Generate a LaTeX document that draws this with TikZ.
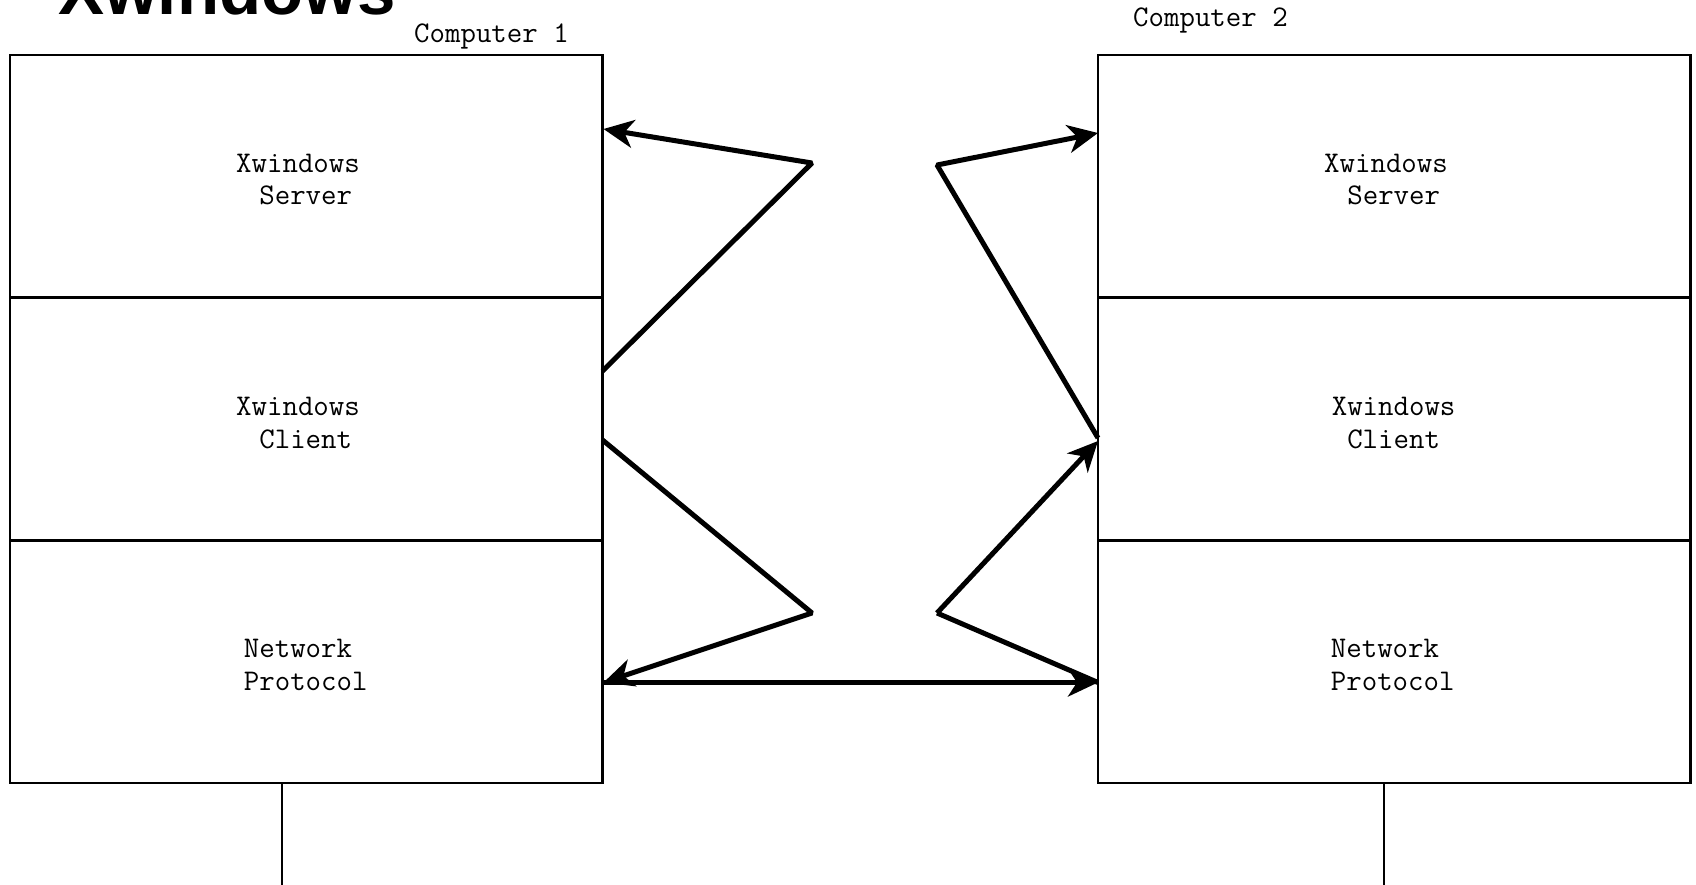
\documentclass[tikz,border=0pt]{standalone}
\usepackage{fontspec}
\newfontfamily\titlef{Liberation Sans}
\usetikzlibrary{arrows.meta,calc}
\begin{document}
\begin{tikzpicture}[x=1pt,y=-1pt,
  box/.style={draw, line width=2.6pt, minimum width=592.5pt, minimum height=242.7pt, inner sep=0pt, outer sep=0pt, anchor=north west},
  lbl/.style={font=\ttfamily\fontsize{30}{32.4}\selectfont, align=center, inner sep=0pt},
  conn/.style={line width=5pt, line join=bevel},
  tip/.style={-{Stealth[length=30pt,width=28pt,inset=9pt]}},
  plain/.style={line width=2.5pt}
]
\useasboundingbox (0,0) rectangle (1696,885);

% title
\node[font=\titlef\bfseries\fontsize{69}{80}\selectfont, anchor=base west, inner sep=0pt] (title) at (58,15) {Xwindows};

% computer labels
\node[lbl, anchor=base west] (comp1) at (414,43) {Computer 1};
\node[lbl, anchor=base west] (comp2) at (1133,27) {Computer 2};

% left stack
\node[box] (s1) at (10,55) {};
\node[box] (c1) at (10,297.7) {};
\node[box] (p1) at (10,540.4) {};
% right stack
\node[box] (s2) at (1098,55) {};
\node[box] (c2) at (1098,297.7) {};
\node[box] (p2) at (1098,540.4) {};

% texts
\node[lbl] (ts1) at (298,179.5) {Xwindows\\\hphantom{X}Server};
\node[lbl] (tc1) at (298,423) {Xwindows\\\hphantom{X}Client};
\node[lbl] (tp1) at (298,665) {Network\\\hphantom{X}Protocol};
\node[lbl] (ts2) at (1386,179.5) {Xwindows\\\hphantom{X}Server};
\node[lbl] (tc2) at (1393.6,423) {Xwindows\\Client};
\node[lbl] (tp2) at (1385,665) {Network\\\hphantom{X}Protocol};

% apex coordinates
\coordinate (a1) at (812,163);
\coordinate (a2) at (812,613);
\coordinate (a3) at (937,165);
\coordinate (a4) at (937,613);

% connectors
\draw[conn, tip] ($(c1.north east)+(0,73.3)$) -- (a1) -- ($(s1.north east)+(1,74)$);
\draw[conn, tip] ($(c1.north east)+(0,142.3)$) -- (a2) -- ($(p1.north east)+(1,142.1)$);
\draw[conn, tip] ($(c2.north west)+(0,140.3)$) -- (a3) -- ($(s2.north west)+(0,78)$);
\draw[conn, tip] (a4) -- ($(c2.north west)+(0,143.3)$);
\draw[conn] (a4) -- ($(p2.north west)+(0,142.1)$);
\draw[conn, tip] ($(p1.north east)+(0,142.1)$) -- ($(p2.north west)+(0,142.1)$);

% bottom network lines
\coordinate (b1) at (282,885);
\coordinate (b2) at (1384,885);
\draw[plain] (p1.south -| b1) -- (b1);
\draw[plain] (p2.south -| b2) -- (b2);
\end{tikzpicture}
\end{document}
